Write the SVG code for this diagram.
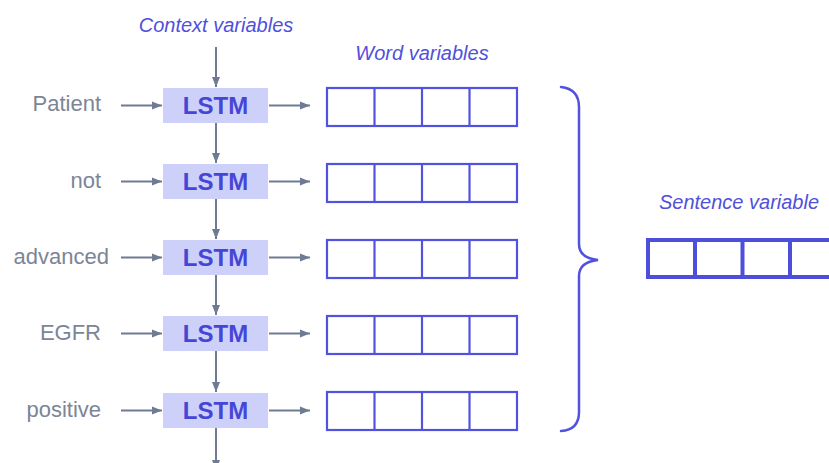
<svg xmlns="http://www.w3.org/2000/svg" width="829" height="463" viewBox="0 0 829 463">
  <defs>
    <marker id="arr" viewBox="0 0 10 10" refX="10" refY="5" markerWidth="5" markerHeight="5" orient="auto" markerUnits="strokeWidth">
      <path d="M0,1 L10,5 L0,9 z" fill="#6e7b92"/>
    </marker>
    <style>
      .title { font-family: "Liberation Sans", Arial, sans-serif; font-style: italic; font-size: 20px; fill: #5050dc; text-anchor: middle; }
      .word { font-family: "Liberation Sans", Arial, sans-serif; font-size: 22px; fill: #7c8597; text-anchor: end; }
      .lstm rect { fill: #cdd1fa; }
      .lstm text { font-family: "Liberation Sans", Arial, sans-serif; font-weight: bold; font-size: 24px; fill: #4646d6; text-anchor: middle; }
      .conn line { stroke: #6e7b92; stroke-width: 2; marker-end: url(#arr); }
      .vec rect { fill: none; stroke: #5252e0; stroke-width: 2.2; }
      .vec line { stroke: #5252e0; stroke-width: 2.2; }
      .svec rect { fill: none; stroke: #4e4edc; stroke-width: 4; }
      .svec line { stroke: #4e4edc; stroke-width: 4; }
      .brace { fill: none; stroke: #5252e0; stroke-width: 2.5; stroke-linecap: round; }
    </style>
  </defs>
  <rect width="829" height="463" fill="#ffffff"/>

  <text class="title" x="216" y="32">Context variables</text>
  <text class="title" x="422" y="60">Word variables</text>
  <text class="title" x="739" y="209">Sentence variable</text>

  <!-- input words -->
  <g id="words">
    <text class="word" x="101" y="111">Patient</text>
    <text class="word" x="101" y="188">not</text>
    <text class="word" x="109" y="264">advanced</text>
    <text class="word" x="101" y="340">EGFR</text>
    <text class="word" x="101" y="417">positive</text>
  </g>

  <!-- LSTM cells -->
  <g id="lstm1" class="lstm"><rect x="163" y="88" width="105" height="35"/><text x="215.5" y="114">LSTM</text></g>
  <g id="lstm2" class="lstm"><rect x="163" y="164" width="105" height="35"/><text x="215.5" y="190">LSTM</text></g>
  <g id="lstm3" class="lstm"><rect x="163" y="240" width="105" height="35"/><text x="215.5" y="266">LSTM</text></g>
  <g id="lstm4" class="lstm"><rect x="163" y="316" width="105" height="35"/><text x="215.5" y="342">LSTM</text></g>
  <g id="lstm5" class="lstm"><rect x="163" y="393" width="105" height="35"/><text x="215.5" y="419">LSTM</text></g>

  <!-- word vectors -->
  <g id="wv1" class="vec"><rect x="327" y="88" width="190" height="38"/><line x1="374.5" y1="88" x2="374.5" y2="126"/><line x1="422" y1="88" x2="422" y2="126"/><line x1="469.5" y1="88" x2="469.5" y2="126"/></g>
  <g id="wv2" class="vec"><rect x="327" y="164" width="190" height="38"/><line x1="374.5" y1="164" x2="374.5" y2="202"/><line x1="422" y1="164" x2="422" y2="202"/><line x1="469.5" y1="164" x2="469.5" y2="202"/></g>
  <g id="wv3" class="vec"><rect x="327" y="240" width="190" height="38"/><line x1="374.5" y1="240" x2="374.5" y2="278"/><line x1="422" y1="240" x2="422" y2="278"/><line x1="469.5" y1="240" x2="469.5" y2="278"/></g>
  <g id="wv4" class="vec"><rect x="327" y="316" width="190" height="38"/><line x1="374.5" y1="316" x2="374.5" y2="354"/><line x1="422" y1="316" x2="422" y2="354"/><line x1="469.5" y1="316" x2="469.5" y2="354"/></g>
  <g id="wv5" class="vec"><rect x="327" y="392" width="190" height="38"/><line x1="374.5" y1="392" x2="374.5" y2="430"/><line x1="422" y1="392" x2="422" y2="430"/><line x1="469.5" y1="392" x2="469.5" y2="430"/></g>

  <!-- brace grouping the word vectors -->
  <path id="brace" class="brace" d="M561,87 Q579,89 579,107 L579,244 Q579,258 598,260 Q579,262 579,276 L579,412 Q579,430 561,431"/>

  <!-- sentence vector -->
  <g id="sentence" class="svec"><rect x="648" y="240" width="190" height="37"/><line x1="695" y1="240" x2="695" y2="277"/><line x1="742.5" y1="240" x2="742.5" y2="277"/><line x1="790" y1="240" x2="790" y2="277"/></g>

  <!-- connectors -->
  <g id="connectors" class="conn">
    <line x1="216" y1="47" x2="216" y2="87"/>
    <line x1="216" y1="123" x2="216" y2="163"/>
    <line x1="216" y1="199" x2="216" y2="239"/>
    <line x1="216" y1="275" x2="216" y2="315"/>
    <line x1="216" y1="351" x2="216" y2="392"/>
    <line x1="216" y1="428" x2="216" y2="470"/>

    <line x1="121" y1="105.5" x2="162" y2="105.5"/>
    <line x1="121" y1="181.5" x2="162" y2="181.5"/>
    <line x1="121" y1="257.5" x2="162" y2="257.5"/>
    <line x1="121" y1="333.5" x2="162" y2="333.5"/>
    <line x1="121" y1="410.5" x2="162" y2="410.5"/>

    <line x1="269" y1="105.5" x2="310" y2="105.5"/>
    <line x1="269" y1="181.5" x2="310" y2="181.5"/>
    <line x1="269" y1="257.5" x2="310" y2="257.5"/>
    <line x1="269" y1="333.5" x2="310" y2="333.5"/>
    <line x1="269" y1="410.5" x2="310" y2="410.5"/>
  </g>
</svg>
